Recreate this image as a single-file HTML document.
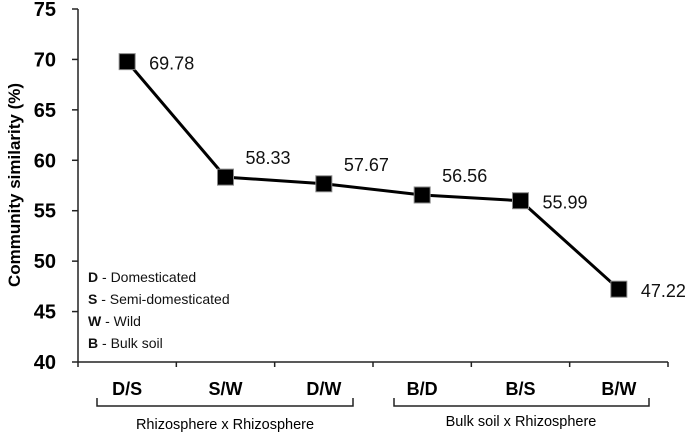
<!DOCTYPE html>
<html><head><meta charset="utf-8"><style>
body{margin:0;background:#fff}
svg{display:block;font-family:"Liberation Sans",sans-serif}
</style></head><body>
<svg id="chart" width="685" height="434">
<g id="axes"></g>
<g id="marks"></g>
<g font-size="14" fill="#111">
<text x="88" y="282"><tspan font-weight="bold">D</tspan> - Domesticated</text>
<text x="88" y="304"><tspan font-weight="bold">S</tspan> - Semi-domesticated</text>
<text x="88" y="326"><tspan font-weight="bold">W</tspan> - Wild</text>
<text x="88" y="348"><tspan font-weight="bold">B</tspan> - Bulk soil</text>
</g>
<text transform="translate(20,185) rotate(-90)" text-anchor="middle" font-weight="bold" font-size="17">Community similarity (%)</text>
<g stroke="#222" stroke-width="1.5" fill="none">
<path d="M97,398 V406 H353 V398"/>
<path d="M394,398 V406 H649 V398"/>
</g>
<text x="225" y="429" text-anchor="middle" font-size="14.5">Rhizosphere x Rhizosphere</text>
<text x="521" y="426" text-anchor="middle" font-size="14.5">Bulk soil x Rhizosphere</text>
</svg>
<script>
const categories=["D/S","S/W","D/W","B/D","B/S","B/W"];
const values=[69.78,58.33,57.67,56.56,55.99,47.22];
const valueLabels=["69.78","58.33","57.67","56.56","55.99","47.22"];
const yTicks=[40,45,50,55,60,65,70,75];
const NS="http://www.w3.org/2000/svg";
const x0=78,x1=668,yMin=40,yMax=75,yB=362,yT=9;
const xs=i=>x0+(i+0.5)*(x1-x0)/categories.length;
const ys=v=>yB-(v-yMin)*(yB-yT)/(yMax-yMin);
function mk(t,a,p){const e=document.createElementNS(NS,t);for(const k in a)e.setAttribute(k,a[k]);p.appendChild(e);return e;}
const ax=document.getElementById('axes'),mg=document.getElementById('marks');
const yl=mk('line',{x1:x0,y1:ys(yMax),x2:x0,y2:yB,stroke:'#222','stroke-width':1.5},ax);


const xl=mk('line',{x1:x0,y1:yB,x2:x1,y2:yB,stroke:'#222','stroke-width':1.5},ax);


yTicks.forEach(t=>{const y=ys(t);
mk('line',{x1:x0-6,y1:y,x2:x0,y2:y,stroke:'#222','stroke-width':1.5},ax);
const tx=mk('text',{x:x0-22,y:y+7,'text-anchor':'end','font-size':20,'font-weight':'bold'},ax);tx.textContent=t;

});
for(let i=0;i<=categories.length;i++){const x=x0+i*(x1-x0)/categories.length;mk('line',{x1:x,y1:yB,x2:x,y2:yB+5,stroke:'#222','stroke-width':1.5},ax);}
categories.forEach((c,i)=>{const tx=mk('text',{x:xs(i),y:395,'text-anchor':'middle','font-size':18,'font-weight':'bold'},ax);tx.textContent=c;

});
const pl=mk('polyline',{points:values.map((v,i)=>xs(i)+','+ys(v)).join(' '),fill:'none',stroke:'#000','stroke-width':3},mg);


values.forEach((v,i)=>{const r=mk('rect',{x:xs(i)-8,y:ys(v)-8,width:16,height:16,fill:'#000',stroke:'#888','stroke-width':1},mg);


const above=(i===1||i===2||i===3);
const tx=mk('text',{x:xs(i)+(above?20:22),y:above?ys(v)-13:ys(v)+8,'font-size':18,fill:'#111'},mg);tx.textContent=valueLabels[i];

});
</script>
</body></html>
